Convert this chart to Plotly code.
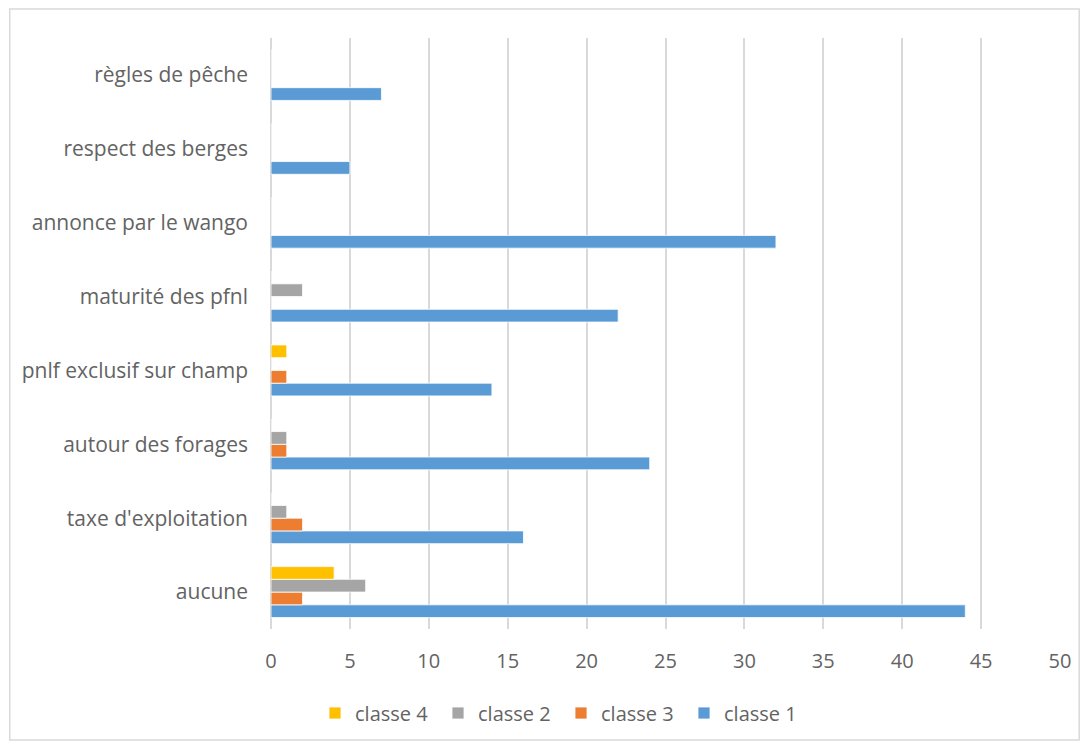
import plotly.graph_objects as go

categories = ["aucune", "taxe d'exploitation", "autour des forages", "pnlf exclusif sur champ",
              "maturité des pfnl", "annonce par le wango", "respect des berges", "règles de pêche"]
classe1 = [44, 16, 24, 14, 22, 32, 5, 7]
classe3 = [2, 2, 1, 1, 0, 0, 0, 0]
classe2 = [6, 1, 1, 0, 2, 0, 0, 0]
classe4 = [4, 0, 0, 1, 0, 0, 0, 0]

series = [
    ("classe 1", classe1, "#5B9BD5"),
    ("classe 3", classe3, "#ED7D31"),
    ("classe 2", classe2, "#A5A5A5"),
    ("classe 4", classe4, "#FFC000"),
]

font_family = "Open Sans"
text_color = "#636363"

W, H = 1075, 733
L, R, T, B = 263, 20, 30, 112
PW, PH = W - L - R, H - T - B

fig = go.Figure()
for name, vals, color in series:
    fig.add_trace(go.Bar(
        y=categories, x=vals, name=name, orientation="h",
        marker=dict(color=color, line=dict(color="white", width=0.8)),
    ))

fig.update_layout(
    width=W, height=H,
    barmode="group", bargap=0.31, bargroupgap=0,
    plot_bgcolor="white", paper_bgcolor="white",
    margin=dict(l=L, r=R, t=T, b=B),
    font=dict(family=font_family, size=20, color=text_color),
    legend=dict(orientation="h", traceorder="reversed",
                xref="container", yref="container",
                x=(561 - 8) / W, xanchor="center", y=1 - 705 / H, yanchor="middle",
                font=dict(size=20, color=text_color),
                entrywidth=78, entrywidthmode="pixels",
                itemwidth=30),
    xaxis=dict(range=[0, 50], dtick=5, showgrid=True, gridcolor="#d9d9d9", gridwidth=1.5,
               zeroline=True, zerolinecolor="#d9d9d9", zerolinewidth=1.5,
               showline=False, ticks="", ticklabelstandoff=18,
               tickfont=dict(size=20, color=text_color)),
    yaxis=dict(categoryorder="array", categoryarray=categories,
               showgrid=False, zeroline=False, showline=False, ticks="",
               ticklabelstandoff=22, tickfont=dict(size=21, color=text_color)),
    shapes=[dict(type="rect", xref="paper", yref="paper",
                 x0=(0.75 - L) / PW, x1=(W - 0.75 - L) / PW,
                 y0=(H - B - (H - 1)) / PH, y1=(H - B - 1) / PH,
                 line=dict(color="#d9d9d9", width=1.5), fillcolor="rgba(0,0,0,0)", layer="below")],
)

fig.write_html("out.html")
